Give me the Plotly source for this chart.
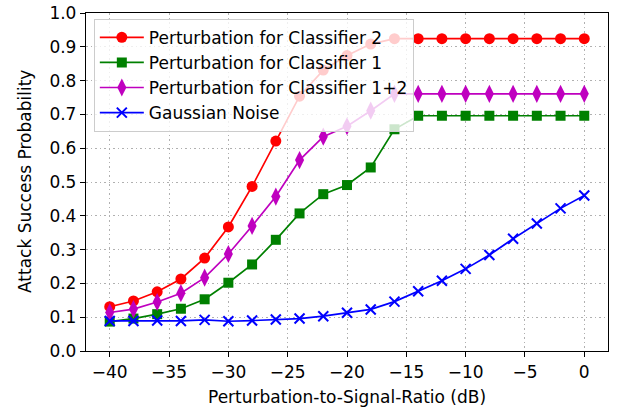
import plotly.graph_objects as go

x_db = [-40, -38, -36, -34, -32, -30, -28, -26, -24, -22, -20, -18, -16, -14, -12, -10, -8, -6, -4, -2, 0]

clf2 = [0.131, 0.148, 0.175, 0.213, 0.275, 0.367, 0.487, 0.621, 0.754, 0.831, 0.874, 0.908, 0.924, 0.924,
        0.924, 0.924, 0.924, 0.924, 0.924, 0.924, 0.924]
clf1 = [0.087, 0.096, 0.109, 0.125, 0.153, 0.202, 0.256, 0.329, 0.407, 0.464, 0.491, 0.543, 0.656, 0.696,
        0.696, 0.696, 0.696, 0.696, 0.696, 0.696, 0.696]
clf12 = [0.114, 0.124, 0.145, 0.171, 0.217, 0.287, 0.370, 0.457, 0.565, 0.634, 0.665, 0.711, 0.761, 0.761,
         0.761, 0.761, 0.761, 0.761, 0.761, 0.761, 0.761]
gauss = [0.089, 0.089, 0.090, 0.089, 0.092, 0.088, 0.090, 0.093, 0.096, 0.103, 0.113, 0.123, 0.146, 0.177,
         0.208, 0.243, 0.284, 0.332, 0.377, 0.422, 0.460]

names = ["Perturbation for Classifier 2", "Perturbation for Classifier 1",
         "Perturbation for Classifier 1+2", "Gaussian Noise"]
colors = ["#ff0000", "#008000", "#bf00bf", "#0000ff"]
symbols = ["circle", "square", "diamond-tall", "x-thin"]
sizes = [11, 10, 13, 10]

x_title = "Perturbation-to-Signal-Ratio (dB)"
y_title = "Attack Success Probability"

FONT = "DejaVu Sans"
FS = 17
fig = go.Figure()
for ys, nm, c, s, sz in zip([clf2, clf1, clf12, gauss], names, colors, symbols, sizes):
    fig.add_trace(go.Scatter(
        x=x_db, y=ys, name=nm, mode="lines+markers",
        line=dict(color=c, width=1.7),
        marker=dict(symbol=s, size=sz, color=c, line=dict(color=c, width=2 if s == "x-thin" else 0)),
    ))

axis_common = dict(
    showline=True, linecolor="black", linewidth=1.3, mirror=True,
    ticks="outside", ticklen=5, tickwidth=1.2, tickcolor="black",
    showgrid=True, gridcolor="#b0b0b0", griddash="1.5px,3px", gridwidth=1.2,
    zeroline=False, tickfont=dict(family=FONT, size=FS, color="black"),
    automargin=False, ticklabeloverflow="allow",
)
fig.update_xaxes(range=[-42, 2], tickvals=[-40, -35, -30, -25, -20, -15, -10, -5, 0],
                 ticktext=["\u221240", "\u221235", "\u221230", "\u221225", "\u221220", "\u221215", "\u221210", "\u22125", "0"],
                 **axis_common)
fig.update_yaxes(range=[0, 1], tickvals=[i / 10 for i in range(11)], tickformat=".1f",
                 **axis_common)

fig.add_annotation(text=x_title, xref="paper", yref="paper", x=0.5, y=0,
                   xanchor="center", yanchor="middle", yshift=-46, showarrow=False,
                   font=dict(family=FONT, size=FS, color="black"))
fig.add_annotation(text=y_title, xref="paper", yref="paper", x=0, y=0.5,
                   xanchor="center", yanchor="middle", xshift=-61, textangle=-90, showarrow=False,
                   font=dict(family=FONT, size=FS, color="black"))

fig.update_layout(
    width=624, height=412,
    margin=dict(l=86, r=16, t=13, b=61),
    plot_bgcolor="white", paper_bgcolor="white",
    font=dict(family=FONT, size=FS, color="black"),
    legend=dict(x=0.015, y=0.983, xanchor="left", yanchor="top",
                bgcolor="rgba(255,255,255,0.8)", bordercolor="#cccccc", borderwidth=1,
                font=dict(family=FONT, size=FS, color="black"), tracegroupgap=0, itemwidth=44),
)
fig.write_html("out.html", config={"displayModeBar": False},
               post_script="document.body.style.margin='0';")
